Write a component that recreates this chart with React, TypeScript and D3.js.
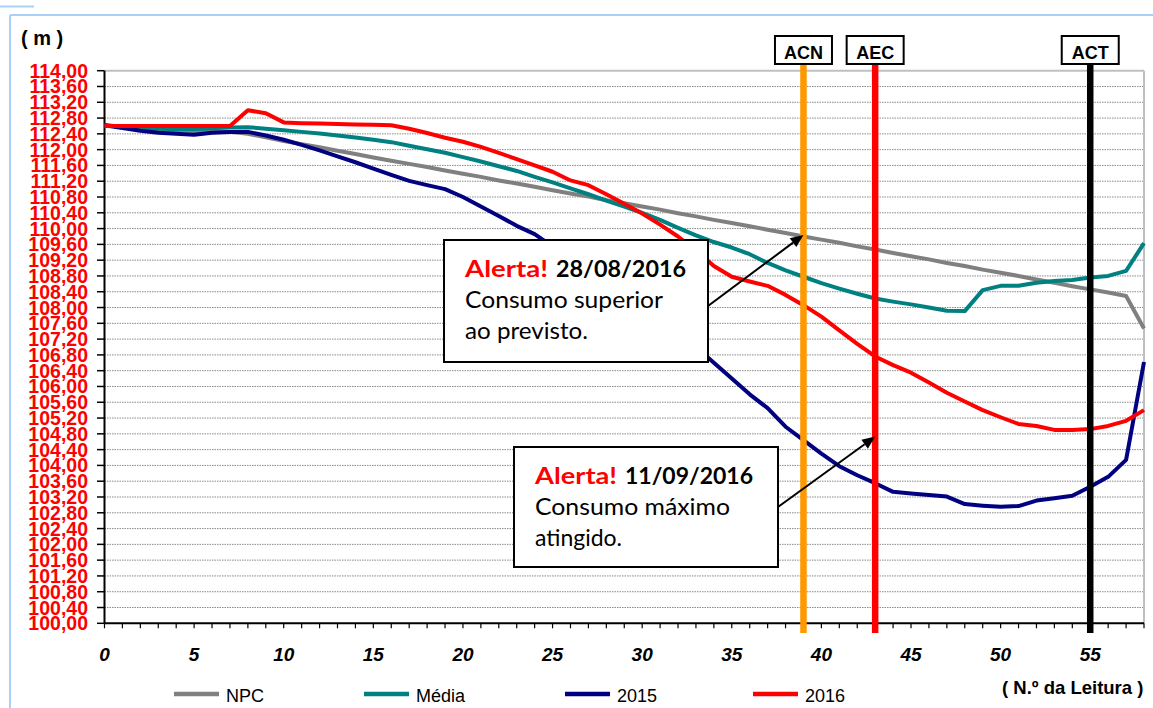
import React from "react";
import * as d3 from "d3";

const readings = d3.range(0, 59);
const npc = [112.62,112.58,112.54,112.51,112.49,112.47,112.46,112.45,112.40,112.31,112.22,112.14,112.06,111.97,111.89,111.80,111.72,111.64,111.56,111.47,111.39,111.31,111.22,111.14,111.06,110.97,110.89,110.81,110.72,110.64,110.56,110.48,110.39,110.31,110.22,110.14,110.06,109.97,109.89,109.80,109.72,109.64,109.55,109.47,109.38,109.30,109.22,109.13,109.05,108.96,108.88,108.80,108.71,108.63,108.54,108.46,108.38,108.29,107.47];
const media = [112.62,112.58,112.55,112.53,112.52,112.52,112.54,112.56,112.57,112.53,112.49,112.45,112.41,112.36,112.31,112.25,112.19,112.10,112.01,111.92,111.81,111.70,111.58,111.46,111.31,111.17,111.02,110.87,110.71,110.56,110.40,110.22,110.02,109.83,109.66,109.52,109.35,109.13,108.94,108.78,108.62,108.48,108.35,108.23,108.15,108.08,108.00,107.92,107.91,108.44,108.55,108.55,108.63,108.67,108.70,108.76,108.80,108.93,109.63];
const y2015 = [112.62,112.55,112.48,112.43,112.40,112.38,112.43,112.45,112.45,112.36,112.25,112.12,111.98,111.83,111.68,111.52,111.36,111.21,111.10,111.00,110.80,110.56,110.32,110.07,109.86,109.55,109.20,108.85,108.50,108.15,107.85,107.55,107.28,107.00,106.60,106.20,105.80,105.45,104.98,104.64,104.30,103.98,103.75,103.55,103.33,103.29,103.25,103.21,103.02,102.98,102.95,102.97,103.11,103.17,103.23,103.46,103.71,104.14,106.62];
const y2016 = [112.60,112.60,112.60,112.60,112.60,112.60,112.60,112.60,113.00,112.92,112.69,112.67,112.66,112.65,112.64,112.63,112.62,112.53,112.42,112.30,112.20,112.07,111.92,111.76,111.60,111.44,111.22,111.10,110.87,110.63,110.38,110.10,109.80,109.45,109.05,108.78,108.66,108.55,108.32,108.06,107.77,107.42,107.08,106.76,106.54,106.35,106.10,105.84,105.62,105.40,105.22,105.05,105.00,104.90,104.90,104.92,105.00,105.13,105.40];

const seriesNames = ["NPC", "Média", "2015", "2016"];
const seriesColors = ["#808080", "#008080", "#000080", "#FF0000"];
const seriesValues = [npc, media, y2015, y2016];

const yTicks = d3.range(0, 36).map((k) => 100 + k * 0.4);
const xLabelTicks = [0, 5, 10, 15, 20, 25, 30, 35, 40, 45, 50, 55];

const markerNames = ["ACN", "AEC", "ACT"];
const markerReadings = [39, 43, 55];
const markerColors = ["#FF9900", "#FF0000", "#000000"];

const alert1 = { title: "Alerta!", date: "28/08/2016", l1: "Consumo superior", l2: "ao previsto.", reading: 39, level: 109.84 };
const alert2 = { title: "Alerta!", date: "11/09/2016", l1: "Consumo máximo", l2: "atingido.", reading: 43, level: 104.73 };

const W = 1153, H = 708;
const x = d3.scaleLinear().domain([0, 58]).range([104.5, 1144]);
const y = d3.scaleLinear().domain([100, 114]).range([623.3, 70.7]);

const fmt = (v: number) => v.toFixed(2).replace(".", ",");
const ARIAL = "'Liberation Sans', Arial, sans-serif";
const GILL = "Lato, 'Open Sans', sans-serif";

function Arrow({ x1, y1, x2, y2 }: { x1: number; y1: number; x2: number; y2: number }) {
  const ang = Math.atan2(y2 - y1, x2 - x1);
  const L = 13, Wd = 5.5;
  const bx = x2 - L * Math.cos(ang), by = y2 - L * Math.sin(ang);
  const p1 = [bx + Wd * Math.sin(ang), by - Wd * Math.cos(ang)];
  const p2 = [bx - Wd * Math.sin(ang), by + Wd * Math.cos(ang)];
  return (
    <g>
      <line x1={x1} y1={y1} x2={bx} y2={by} stroke="#000" strokeWidth={2} />
      <polygon points={`${x2},${y2} ${p1[0]},${p1[1]} ${p2[0]},${p2[1]}`} fill="#000" />
    </g>
  );
}

function AlertBox({ a, bx, by, bw, bh, tx, widths }: any) {
  return (
    <g>
      <rect x={bx} y={by} width={bw} height={bh} fill="#fff" stroke="#000" strokeWidth={2} />
      <text x={tx} y={by + 37} fontFamily={GILL} fontSize={23} fontWeight="bold" fill="#FF0000" textLength={widths[0]} lengthAdjust="spacingAndGlyphs">{a.title}</text>
      <text x={tx + widths[0] + 8} y={by + 37} fontFamily={GILL} fontSize={23} fontWeight="bold" fill="#000" textLength={widths[1]} lengthAdjust="spacingAndGlyphs">{a.date}</text>
      <text x={tx} y={by + 68} fontFamily={GILL} fontSize={23} fill="#000" textLength={widths[2]} lengthAdjust="spacingAndGlyphs">{a.l1}</text>
      <text x={tx} y={by + 99} fontFamily={GILL} fontSize={23} fill="#000" textLength={widths[3]} lengthAdjust="spacingAndGlyphs">{a.l2}</text>
    </g>
  );
}

export default function App() {
  const line = d3.line<number>().x((_, i) => x(readings[i])).y((v) => y(v));
  const x0 = x(0), yBase = y(100), yTop = y(114), xEnd = x(58);
  return (
    <svg width={W} height={H} style={{ position: "absolute", left: 0, top: 0, background: "#fff" }}>
      <line x1={0} y1={6.5} x2={34} y2={6.5} stroke="#A9D1F7" strokeWidth={2} />
      <line x1={10} y1={15} x2={W} y2={15} stroke="#A9D1F7" strokeWidth={2} />
      <line x1={10} y1={15} x2={10} y2={H} stroke="#A9D1F7" strokeWidth={2} />

      <text x={21} y={45} fontFamily={ARIAL} fontSize={20} fontWeight="bold" fill="#000">( m )</text>

      {yTicks.filter((v) => v > 100.001 && v < 113.99).map((v) => (
        <line key={"g" + v} x1={x0} x2={xEnd} y1={y(v)} y2={y(v)} stroke="#8a8a8a" strokeWidth={1} strokeDasharray="1.5 1" />
      ))}
      <line x1={x0} x2={xEnd} y1={yTop} y2={yTop} stroke="#C0C0C0" strokeWidth={2} />
      <line x1={xEnd} x2={xEnd} y1={yTop} y2={yBase} stroke="#C0C0C0" strokeWidth={2} />

      {yTicks.map((v) => (
        <g key={"yt" + v}>
          <line x1={97} x2={x0} y1={y(v)} y2={y(v)} stroke="#000" strokeWidth={1.5} />
          <text x={88} y={y(v) + 7} textAnchor="end" fontFamily={ARIAL} fontSize={19.5} fontWeight="bold" fill="#FF0000">{fmt(v)}</text>
        </g>
      ))}
      {readings.map((r) => (
        <line key={"xt" + r} x1={x(r)} x2={x(r)} y1={yBase} y2={yBase + 5} stroke="#000" strokeWidth={1.2} />
      ))}
      {xLabelTicks.map((r) => (
        <text key={"xl" + r} x={x(r)} y={661} textAnchor="middle" fontFamily={ARIAL} fontSize={19} fontWeight="bold" fontStyle="italic" fill="#000">{r}</text>
      ))}
      <line x1={x0} x2={x0} y1={yTop} y2={yBase} stroke="#000" strokeWidth={2} />
      <line x1={x0} x2={xEnd} y1={yBase} y2={yBase} stroke="#000" strokeWidth={2} />

      {seriesValues.map((vals, k) => (
        <path key={"s" + k} d={line(vals) || ""} fill="none" stroke={seriesColors[k]} strokeWidth={4} strokeLinejoin="round" />
      ))}

      {markerReadings.map((r, k) => (
        <line key={"m" + k} x1={x(r)} x2={x(r)} y1={64} y2={633} stroke={markerColors[k]} strokeWidth={6.5} />
      ))}
      {markerReadings.map((r, k) => {
        const w = 57;
        return (
          <g key={"mb" + k}>
            <rect x={x(r) - w / 2} y={36} width={w} height={28} fill="#fff" stroke="#000" strokeWidth={2} />
            <text x={x(r)} y={59} textAnchor="middle" fontFamily={ARIAL} fontSize={18} fontWeight="bold" fill="#000">{markerNames[k]}</text>
          </g>
        );
      })}

      <AlertBox a={alert1} bx={444} by={240} bw={264} bh={122} tx={465} widths={[83, 130, 198, 123]} />
      <Arrow x1={708} y1={306} x2={x(alert1.reading)} y2={y(alert1.level)} />
      <AlertBox a={alert2} bx={514} by={447} bw={264} bh={120} tx={535} widths={[82, 128, 195, 87]} />
      <Arrow x1={778} y1={507} x2={x(alert2.reading)} y2={y(alert2.level)} />

      {seriesNames.map((n, k) => {
        const lx = [174, 364, 565, 753][k];
        return (
          <g key={"lg" + k}>
            <line x1={lx} x2={lx + 45} y1={694} y2={694} stroke={seriesColors[k]} strokeWidth={4.5} />
            <text x={lx + 52} y={702} fontFamily={ARIAL} fontSize={18} fill="#000">{n}</text>
          </g>
        );
      })}
      <text x={1002} y={694} fontFamily={ARIAL} fontSize={18.5} fontWeight="bold" fill="#000">( N.º da Leitura )</text>
    </svg>
  );
}
